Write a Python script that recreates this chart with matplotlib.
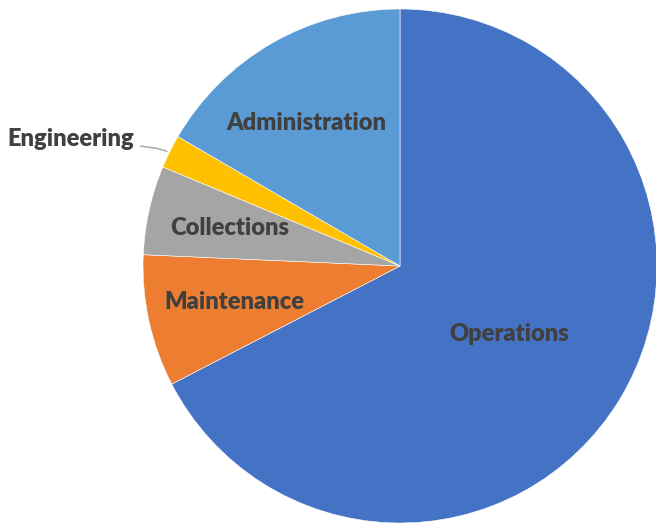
import numpy as np
import matplotlib.pyplot as plt

# =========================
# 資料
# =========================
departments = ["Operations", "Maintenance", "Collections", "Engineering", "Administration"]
shares = [67.4, 8.3, 5.6, 2.1, 16.6]
colors = ["#4472C4", "#ED7D31", "#A5A5A5", "#FFC000", "#5B9BD5"]

plt.rcParams["font.family"] = ["Lato", "DejaVu Sans"]

W, H = 656, 527
cx, cy, R = 400, 266, 257

fig = plt.figure(figsize=(W / 100, H / 100), dpi=100)
ax = fig.add_axes([0, 0, 1, 1])

wedges, _ = ax.pie(
    shares,
    colors=colors,
    startangle=90,
    counterclock=False,
    radius=1.0,
    wedgeprops=dict(edgecolor="white", linewidth=0.4),
)

ax.set_aspect("auto")
ax.set_xlim(-cx / R, (W - cx) / R)
ax.set_ylim(-(H - cy) / R, cy / R)
ax.axis("off")

text_color = "#404040"
fs = 17
# 標籤半徑與角度微調
label_r = {"Operations": 0.5, "Maintenance": 0.66, "Collections": 0.68, "Administration": 0.665}
label_dth = {"Operations": -0.5, "Maintenance": 0, "Collections": 0, "Administration": 3.4}

for w, name in zip(wedges, departments):
    mid = np.deg2rad((w.theta1 + w.theta2) / 2)
    if name == "Engineering":
        ex, ey = np.cos(mid), np.sin(mid)
        # leader line
        ax.plot([ex - 0.01, ex - 0.05, (140 - cx) / R],
                [ey, ey + 0.012, (cy - 146) / R],
                color="#A5A5A5", lw=1.0, solid_capstyle="butt")
        ax.text((134 - cx) / R, (cy - 139) / R, name, ha="right", va="center",
                fontsize=fs, fontweight="heavy", color=text_color)
    else:
        r = label_r[name]
        a = mid + np.deg2rad(label_dth[name])
        ax.text(r * np.cos(a), r * np.sin(a), name, ha="center", va="center",
                fontsize=fs, fontweight="heavy", color=text_color)

plt.savefig("out.png", dpi=100)
